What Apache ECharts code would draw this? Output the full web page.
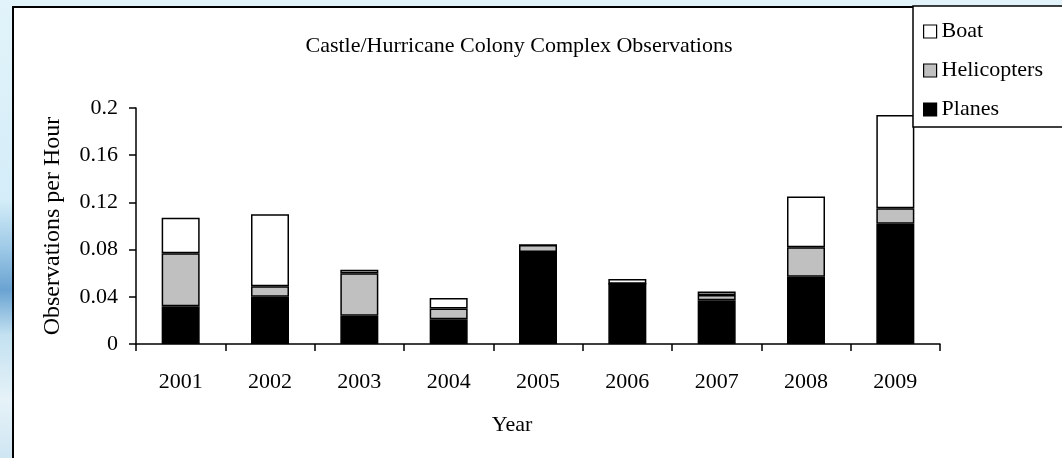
<!DOCTYPE html>
<html>
<head>
<meta charset="utf-8">
<script src="https://cdn.jsdelivr.net/npm/echarts@6/dist/echarts.min.js"></script>
<style>
  html, body {
    margin: 0;
    padding: 0;
    width: 1062px;
    height: 458px;
    overflow: hidden;
    background: linear-gradient(to bottom, #e2f3fa 0px, #d4edf8 200px, #9cc8e6 250px, #6aa3d2 290px, #c3e1f1 335px, #e6f2f8 400px, #cfe6f3 458px);
  }
  .frame {
    position: absolute;
    left: 12px;
    top: 6px;
    width: 1060px;
    height: 470px;
    box-sizing: border-box;
    border: 2px solid #000;
    background: #fff;
  }
  #chart {
    position: absolute;
    left: 0;
    top: 0;
    width: 1062px;
    height: 458px;
  }
</style>
</head>
<body>
<div class="frame"></div>
<div id="chart"></div>
<script>
// values (observations per hour)
const years = ['2001', '2002', '2003', '2004', '2005', '2006', '2007', '2008', '2009']
const planes = [0.032, 0.040, 0.024, 0.021, 0.078, 0.051, 0.037, 0.057, 0.102]
const helicopters = [0.045, 0.009, 0.036, 0.009, 0.006, 0, 0.0045, 0.025, 0.013]
const boat = [0.030, 0.061, 0.003, 0.009, 0, 0.004, 0.003, 0.043, 0.079]

const font = '"Liberation Serif", "Times New Roman", serif'

const chart = echarts.init(document.getElementById('chart'), null, {renderer: 'canvas'})

function bar (name, data, fill) {
  return {
    type: 'bar',
    name: name,
    stack: 'obs',
    data: data,
    barWidth: 38,
    itemStyle: {
      color: fill,
      borderColor: '#000',
      borderWidth: 1.5
    }
  }
}

chart.setOption({
  animation: false,
  backgroundColor: 'transparent',
  textStyle: {fontFamily: font, color: '#000'},
  title: {
    text: 'Castle/Hurricane Colony Complex Observations',
    left: 514,
    textAlign: 'center',
    top: 30,
    textStyle: {fontFamily: font, fontSize: 22, fontWeight: 'normal', color: '#000'}
  },
  legend: {
    orient: 'vertical',
    left: 913,
    top: 6,
    padding: [14, 22, 6, 10],
    itemGap: 16,
    itemWidth: 13,
    itemHeight: 13,
    icon: 'rect',
    backgroundColor: '#fff',
    borderColor: '#000',
    borderWidth: 1.5,
    data: ['Boat', 'Helicopters', 'Planes'],
    itemStyle: {borderColor: '#000', borderWidth: 1.2},
    textStyle: {fontFamily: font, fontSize: 22, lineHeight: 23, color: '#000'}
  },
  grid: {
    left: 136,
    right: 122,
    top: 108,
    bottom: 114,
    containLabel: false
  },
  xAxis: {
    type: 'category',
    data: years,
    name: 'Year',
    nameLocation: 'middle',
    nameGap: 70,
    nameTextStyle: {fontFamily: font, fontSize: 22, color: '#000', padding: [0, 52, 0, 0]},
    axisLine: {lineStyle: {color: '#000', width: 1.5}},
    axisTick: {show: true, length: 7, lineStyle: {color: '#000', width: 1.5}},
    axisLabel: {fontFamily: font, fontSize: 22, color: '#000', margin: 27}
  },
  yAxis: {
    type: 'value',
    min: 0,
    max: 0.2,
    interval: 0.04,
    name: 'Observations per Hour',
    nameLocation: 'middle',
    nameGap: 71,
    nameTextStyle: {fontFamily: font, fontSize: 24, color: '#000'},
    splitLine: {show: false},
    axisLine: {show: true, lineStyle: {color: '#000', width: 1.5}},
    axisTick: {show: true, length: 7, lineStyle: {color: '#000', width: 1.5}},
    axisLabel: {
      fontFamily: font,
      fontSize: 22,
      color: '#000',
      margin: 18,
      formatter: v => String(+v.toFixed(2))
    }
  },
  series: [
    bar('Planes', planes, '#000000'),
    bar('Helicopters', helicopters, '#c0c0c0'),
    bar('Boat', boat, '#ffffff')
  ]
})
</script>
</body>
</html>
